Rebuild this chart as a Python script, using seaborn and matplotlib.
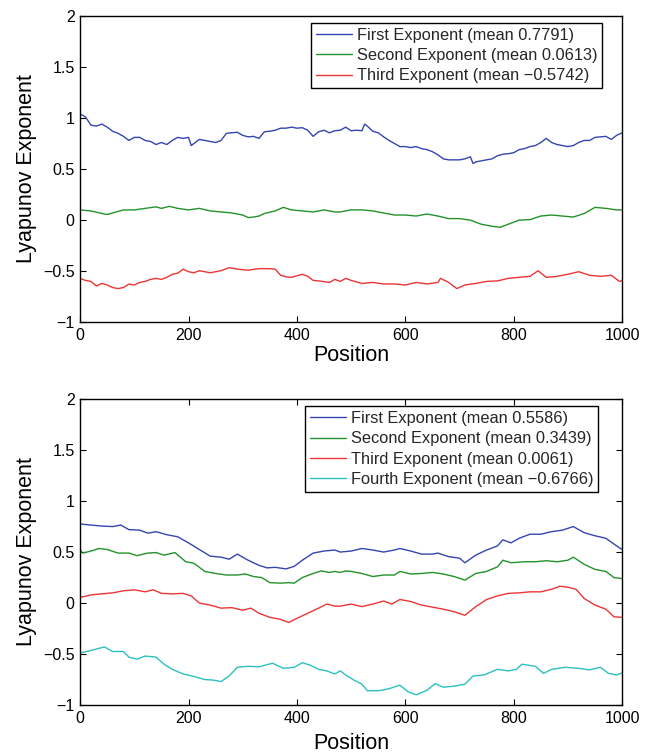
import matplotlib
matplotlib.use("Agg")
import matplotlib.pyplot as plt
from matplotlib.ticker import FuncFormatter
import seaborn as sns

# values
top_first_x = [0,10,20,30,40,50,60,70,80,90,100,110,120,130,140,150,160,170,180,190,200,205,210,220,230,240,250,260,270,280,290,300,310,320,330,340,350,360,370,380,390,400,410,420,430,440,450,460,470,480,490,500,510,520,525,530,540,550,560,570,580,590,600,610,620,630,640,650,660,670,680,690,700,710,720,725,730,740,750,760,770,780,790,800,810,820,830,840,850,860,870,880,890,900,910,920,930,940,950,960,970,980,990,1000]
top_first_y = [1.04,1.01,0.93,0.92,0.94,0.91,0.87,0.85,0.82,0.78,0.81,0.81,0.78,0.77,0.74,0.76,0.74,0.78,0.81,0.80,0.81,0.73,0.75,0.79,0.78,0.77,0.76,0.78,0.85,0.855,0.86,0.83,0.815,0.82,0.80,0.865,0.87,0.88,0.90,0.90,0.91,0.90,0.905,0.88,0.82,0.865,0.88,0.855,0.875,0.88,0.91,0.875,0.88,0.875,0.94,0.92,0.87,0.855,0.815,0.78,0.75,0.72,0.72,0.71,0.72,0.70,0.69,0.67,0.64,0.60,0.59,0.59,0.59,0.60,0.62,0.555,0.57,0.58,0.59,0.60,0.63,0.645,0.65,0.66,0.69,0.70,0.72,0.73,0.76,0.80,0.76,0.74,0.73,0.72,0.73,0.76,0.78,0.78,0.81,0.815,0.82,0.79,0.83,0.855]

top_second_x = [0,20,40,50,60,80,100,120,140,150,165,180,200,220,240,260,280,300,310,320,330,340,360,375,390,410,430,450,470,480,500,520,540,560,580,600,620,640,660,680,700,720,740,760,775,790,810,830,850,870,890,910,930,950,970,990,1000]
top_second_y = [0.10,0.09,0.065,0.055,0.07,0.10,0.10,0.115,0.13,0.115,0.135,0.115,0.10,0.115,0.09,0.08,0.07,0.05,0.025,0.03,0.04,0.065,0.09,0.125,0.10,0.09,0.08,0.10,0.08,0.08,0.10,0.10,0.09,0.07,0.05,0.05,0.04,0.06,0.04,0.015,0.015,0.0,-0.04,-0.06,-0.07,-0.04,0.0,0.005,0.04,0.05,0.04,0.03,0.065,0.125,0.115,0.10,0.10]

top_third_x = [0,10,20,30,40,50,60,70,80,90,100,110,120,130,140,150,160,170,180,190,200,210,220,240,260,275,290,310,330,350,360,370,380,390,410,420,430,440,460,470,480,490,500,520,540,560,580,600,620,640,660,665,680,695,710,730,750,770,790,810,830,845,860,880,900,920,940,960,980,995,1000]
top_third_y = [-0.57,-0.59,-0.60,-0.645,-0.62,-0.635,-0.66,-0.67,-0.66,-0.625,-0.635,-0.61,-0.60,-0.58,-0.57,-0.58,-0.56,-0.53,-0.52,-0.48,-0.505,-0.515,-0.495,-0.515,-0.495,-0.465,-0.48,-0.49,-0.475,-0.475,-0.48,-0.54,-0.555,-0.56,-0.53,-0.55,-0.59,-0.595,-0.61,-0.58,-0.60,-0.57,-0.59,-0.62,-0.61,-0.625,-0.625,-0.635,-0.61,-0.625,-0.61,-0.57,-0.61,-0.67,-0.635,-0.62,-0.60,-0.595,-0.57,-0.56,-0.55,-0.495,-0.56,-0.55,-0.53,-0.505,-0.54,-0.55,-0.54,-0.60,-0.59]

bot_first_x = [0,20,40,60,75,90,110,125,140,160,180,200,220,240,260,275,290,310,330,345,360,380,395,410,430,450,470,480,500,520,540,560,580,590,610,630,650,660,680,700,710,730,750,770,780,795,810,830,850,870,890,910,930,950,970,990,1000]
bot_first_y = [0.775,0.765,0.755,0.75,0.765,0.72,0.715,0.685,0.70,0.67,0.65,0.59,0.525,0.46,0.45,0.43,0.48,0.42,0.37,0.345,0.35,0.335,0.36,0.42,0.49,0.51,0.52,0.50,0.51,0.535,0.52,0.50,0.52,0.535,0.51,0.48,0.48,0.49,0.455,0.44,0.395,0.47,0.52,0.56,0.62,0.59,0.635,0.675,0.675,0.70,0.715,0.75,0.69,0.66,0.635,0.56,0.525]

bot_second_x = [0,5,20,35,50,70,90,105,125,140,155,175,195,210,230,250,270,290,305,320,335,350,370,385,395,410,430,445,460,470,480,490,500,520,540,560,580,590,610,630,650,670,690,710,730,750,770,780,795,820,840,860,880,900,910,930,950,970,985,1000]
bot_second_y = [0.52,0.49,0.51,0.535,0.525,0.49,0.49,0.465,0.49,0.495,0.47,0.495,0.405,0.39,0.31,0.29,0.275,0.275,0.285,0.26,0.25,0.20,0.195,0.20,0.195,0.25,0.29,0.315,0.30,0.31,0.30,0.315,0.31,0.29,0.26,0.275,0.275,0.31,0.285,0.29,0.30,0.285,0.26,0.225,0.29,0.31,0.355,0.42,0.395,0.405,0.405,0.415,0.405,0.42,0.45,0.38,0.33,0.31,0.25,0.24]

bot_third_x = [0,20,40,60,80,100,120,135,150,170,190,205,220,240,260,280,300,315,330,350,370,385,400,420,440,455,470,480,500,520,540,560,575,590,610,630,650,670,690,710,730,750,770,790,810,830,850,870,885,900,915,930,950,970,985,1000]
bot_third_y = [0.055,0.08,0.09,0.10,0.12,0.13,0.11,0.13,0.095,0.09,0.095,0.07,0.0,-0.02,-0.05,-0.045,-0.07,-0.05,-0.10,-0.14,-0.16,-0.19,-0.15,-0.10,-0.05,-0.01,-0.03,-0.03,-0.01,-0.035,-0.01,0.02,-0.01,0.035,0.015,-0.02,-0.04,-0.06,-0.085,-0.12,-0.035,0.035,0.07,0.095,0.10,0.11,0.11,0.135,0.165,0.155,0.135,0.045,-0.02,-0.06,-0.135,-0.14]

bot_fourth_x = [0,20,45,60,80,90,105,120,140,155,170,190,210,230,245,260,275,290,310,330,355,375,395,410,425,440,455,470,480,490,505,520,530,550,570,590,605,620,640,655,670,690,710,725,745,770,790,805,815,840,855,870,895,920,940,960,975,990,1000]
bot_fourth_y = [-0.49,-0.465,-0.43,-0.475,-0.475,-0.53,-0.55,-0.52,-0.53,-0.60,-0.65,-0.695,-0.72,-0.75,-0.755,-0.77,-0.715,-0.63,-0.62,-0.625,-0.59,-0.64,-0.63,-0.585,-0.61,-0.65,-0.665,-0.695,-0.665,-0.705,-0.755,-0.795,-0.86,-0.86,-0.84,-0.805,-0.87,-0.90,-0.855,-0.79,-0.825,-0.815,-0.795,-0.715,-0.705,-0.65,-0.665,-0.65,-0.60,-0.62,-0.69,-0.65,-0.63,-0.64,-0.655,-0.63,-0.69,-0.705,-0.685]

top_labels = ["First Exponent (mean 0.7791)",
              "Second Exponent (mean 0.0613)",
              "Third Exponent (mean \u22120.5742)"]
bot_labels = ["First Exponent (mean 0.5586)",
              "Second Exponent (mean 0.3439)",
              "Third Exponent (mean 0.0061)",
              "Fourth Exponent (mean \u22120.6766)"]
colors = ["#3545b0", "#23922b", "#ec3535", "#2cc0c0"]

sns.set_theme(style="ticks")
plt.rcParams['font.family'] = ['Liberation Sans', 'DejaVu Sans']
plt.rcParams['axes.unicode_minus'] = True

fig = plt.figure(figsize=(6.46, 7.53), dpi=100)
ax1 = fig.add_axes([0.124, 0.572, 0.839, 0.407])
ax2 = fig.add_axes([0.124, 0.0637, 0.839, 0.4063])

top_series = [(top_first_x, top_first_y), (top_second_x, top_second_y), (top_third_x, top_third_y)]
bot_series = [(bot_first_x, bot_first_y), (bot_second_x, bot_second_y),
              (bot_third_x, bot_third_y), (bot_fourth_x, bot_fourth_y)]

fmt = FuncFormatter(lambda v, p: ("%g" % v).replace("-", "\u2212"))

for ax, series, labels, anchor, allsides in [
        (ax1, top_series, top_labels, (0.963, 0.977), False),
        (ax2, bot_series, bot_labels, (0.956, 0.977), True)]:
    for (xs, ys), lab, c in zip(series, labels, colors):
        sns.lineplot(x=xs, y=ys, color=c, label=lab, ax=ax, lw=1.0)
    ax.set_xlim(0, 1000)
    ax.set_ylim(-1, 2)
    ax.set_xticks(range(0, 1001, 200))
    ax.set_yticks([-1, -0.5, 0, 0.5, 1, 1.5, 2])
    ax.yaxis.set_major_formatter(fmt)
    ax.tick_params(direction="in", length=4, width=0.8, labelsize=11.5,
                   colors="black", pad=4,
                   top=allsides, right=allsides)
    for sp in ax.spines.values():
        sp.set_visible(True)
        sp.set_color("black")
        sp.set_linewidth(1.0)
    ax.set_xlabel("Position", fontsize=15.5, color="black")
    ax.set_ylabel("Lyapunov Exponent", fontsize=15.5, color="black")
    ax.yaxis.set_label_coords(-0.08, 0.5)
    leg = ax.legend(loc="upper right", bbox_to_anchor=anchor, borderaxespad=0,
                    fontsize=11.8, frameon=True, fancybox=False, framealpha=1,
                    edgecolor="black", handlelength=2.2, handletextpad=0.3,
                    labelspacing=0.32, borderpad=0.3)
    leg.get_frame().set_linewidth(1.0)

ax1.xaxis.set_label_coords(0.5, -0.075)
ax2.xaxis.set_label_coords(0.5, -0.09)

fig.savefig("out.png", dpi=100)
